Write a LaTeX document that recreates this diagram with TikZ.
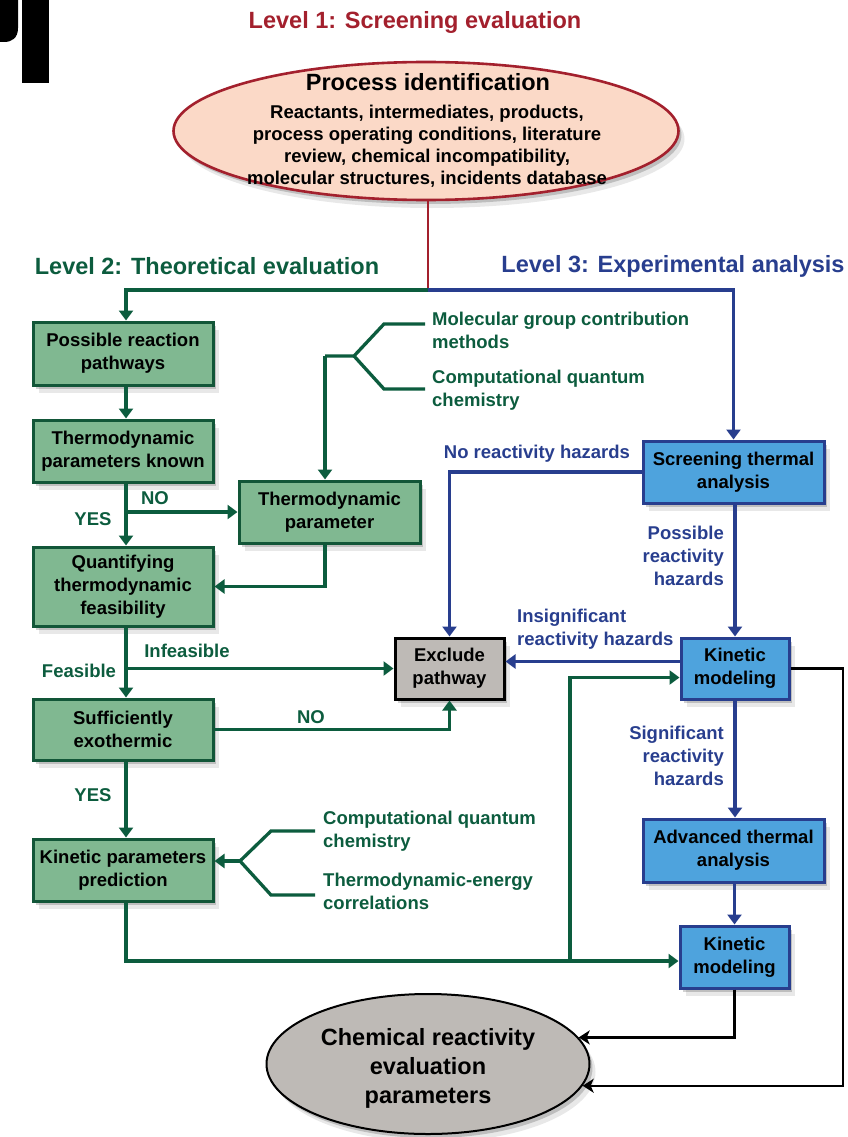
\documentclass[tikz,border=0pt]{standalone}
\usepackage{fontspec}
\setmainfont{Liberation Sans}
\usetikzlibrary{arrows.meta,shadows,shapes.geometric}
\definecolor{gline}{RGB}{12,92,62}
\definecolor{gfill}{RGB}{128,184,145}
\definecolor{gbord}{RGB}{18,86,56}
\definecolor{bline}{RGB}{40,62,142}
\definecolor{bfill}{RGB}{78,163,221}
\definecolor{rline}{RGB}{163,32,45}
\definecolor{salmon}{RGB}{251,217,199}
\definecolor{greyfill}{RGB}{190,186,182}
\newcommand\fbody{\fontsize{18.5}{23}\selectfont\bfseries}
\newcommand\fdesc{\fontsize{18.5}{22}\selectfont\bfseries}
\newcommand\ftitle{\fontsize{23.5}{29}\selectfont\bfseries}
\begin{document}
\begin{tikzpicture}[x=1pt,y=-1pt,
 shad/.style={drop shadow={shadow xshift=3pt,shadow yshift=-4pt,opacity=0.18,fill=black},
              drop shadow={shadow xshift=6pt,shadow yshift=-8pt,opacity=0.09,fill=black}},
 gbox/.style={shad,rectangle,draw=gbord,fill=gfill,line width=3pt,inner sep=0pt,align=center,font=\fbody,text=black},
 bbox/.style={gbox,draw=bline,fill=bfill},
 xbox/.style={gbox,draw=black,fill=greyfill},
 gln/.style={draw=gline,line width=3.3pt},
 garr/.style={gln,-{Triangle[width=14pt,length=10pt]}},
 barr/.style={draw=bline,line width=3.3pt,-{Triangle[width=14pt,length=10pt]}},
 karr/.style={draw=black,line width=2.4pt,-{Stealth[width=14pt,length=11pt,inset=3pt]}},
 glab/.style={font=\fbody,text=gline,inner sep=0pt},
 blab/.style={font=\fbody,text=bline,inner sep=0pt},
 ttl/.style={font=\ftitle,inner sep=0pt}]
\useasboundingbox (0,0) rectangle (847,1137);
% cropped page artifacts
\fill[black] (22,0) rectangle (49,83);
\fill[black] (0,0) -- (18,0) -- (18,28) .. controls (18,38) and (12,42) .. (4,42) -- (0,42) -- cycle;

% titles
\node[ttl,text=rline] (t1) at (415,22) {Level 1: Screening evaluation};
\node[ttl,text=gline] (t2) at (207,266) {Level 2: Theoretical evaluation};
\node[ttl,text=bline] (t3) at (673,266) {Level 3: Experimental analysis};

% top ellipse
\node[shad,ellipse,draw=rline,fill=salmon,line width=2.6pt,minimum width=505pt,minimum height=138pt,inner sep=0pt] (pid) at (426,131) {};
\node[ttl] (pidt) at (428,82) {Process identification};
\node[font=\fdesc,align=center,inner sep=0pt] (pidd) at (427,146) {Reactants, intermediates, products,\\process operating conditions, literature\\review, chemical incompatibility,\\molecular structures, incidents database};

% green boxes
\node[gbox,minimum width=180pt,minimum height=63pt] (b1) at (123,353.5) {Possible reaction\\pathways};
\node[gbox,minimum width=180pt,minimum height=62pt] (b2) at (123,451) {Thermodynamic\\parameters known};
\node[gbox,minimum width=180pt,minimum height=79pt] (b3) at (123,586.5) {Quantifying\\thermodynamic\\feasibility};
\node[gbox,minimum width=180pt,minimum height=61pt] (b4) at (123,729.5) {Sufficiently\\exothermic};
\node[gbox,minimum width=180pt,minimum height=62pt] (b5) at (123,870) {Kinetic parameters\\prediction};
\node[gbox,minimum width=181pt,minimum height=62pt] (tp) at (329.5,512) {Thermodynamic\\parameter};

% exclude
\node[xbox,minimum width=109pt,minimum height=61pt] (ex) at (449.5,668.5) {Exclude\\pathway};

% blue boxes
\node[bbox,minimum width=181pt,minimum height=62pt] (st) at (733.5,472) {Screening thermal\\analysis};
\node[bbox,minimum width=108pt,minimum height=61pt] (k1) at (735,668.5) {Kinetic\\modeling};
\node[bbox,minimum width=181pt,minimum height=63pt] (at) at (733.5,850.5) {Advanced thermal\\analysis};
\node[bbox,minimum width=109pt,minimum height=62pt] (k2) at (734.5,957) {Kinetic\\modeling};

% bottom ellipse
\node[shad,ellipse,draw=black,fill=greyfill,line width=2pt,minimum width=323pt,minimum height=140pt,inner sep=0pt] (ce) at (428,1064) {};
\node[font=\ftitle,align=center,inner sep=0pt] (cet) at (428,1068) {Chemical reactivity\\evaluation\\parameters};

% helper coordinates
\coordinate (split) at (428,290);
\coordinate (colx) at (126,0);
\coordinate (tpx) at (325,0);
\coordinate (j1) at (325,356);
\coordinate (f1) at (354,356);
\coordinate (u1) at (384,324);
\coordinate (u1e) at (425,324);
\coordinate (d1) at (384,389);
\coordinate (d1e) at (425,389);
\coordinate (j3) at (240,861);
\coordinate (u3) at (271,831);
\coordinate (u3e) at (315,831);
\coordinate (d3) at (271,895);
\coordinate (d3e) at (315,895);
\coordinate (j2) at (570,961);
\coordinate (rx) at (843,0);

% level split
\draw[draw=rline,line width=2.6pt] (pid.south -| split) -- (split);
\draw[garr] (split) -| (b1.north -| colx);
\draw[barr] (split) -| (st.north);

% green flow
\draw[garr] (b1.south -| colx) -- (b2.north -| colx);
\draw[garr] (b2.south -| colx) -- (b3.north -| colx);
\draw[garr] (tp.west -| colx) -- (tp.west);
\node[glab] (lno1) at (155,498) {NO};
\node[glab] (lyes1) at (93,519) {YES};

\draw[garr] (j1) -- (tp.north -| tpx);
\draw[gln] (j1) -- (f1) -- (u1) -- (u1e);
\draw[gln] (f1) -- (d1) -- (d1e);
\node[glab,anchor=west,align=left] (m1) at (432,330) {Molecular group contribution\\methods};
\node[glab,anchor=west,align=left] (m2) at (432,390) {Computational quantum\\chemistry};

\draw[garr] (tp.south -| tpx) |- (b3.east);

\draw[garr] (b3.south -| colx) -- (b4.north -| colx);
\draw[garr] (ex.west -| colx) -- (ex.west);
\node[glab] (linf) at (187,651) {Infeasible};
\node[glab] (lfea) at (79,671) {Feasible};

\draw[garr] (b4.east) -| (ex.south);
\node[glab] (lno2) at (311,717) {NO};

\draw[garr] (b4.south -| colx) -- (b5.north -| colx);
\node[glab] (lyes2) at (93,795) {YES};

\draw[garr] (j3) -- (b5.east |- j3);
\draw[gln] (j3) -- (u3) -- (u3e);
\draw[gln] (j3) -- (d3) -- (d3e);
\node[glab,anchor=west,align=left] (m3) at (323,831) {Computational quantum\\chemistry};
\node[glab,anchor=west,align=left] (m4) at (323,891) {Thermodynamic-energy\\correlations};

\draw[garr] (b5.south -| colx) |- ([yshift=-4pt]k2.west);
\draw[garr] (j2) |- ([yshift=-9pt]k1.west);

% blue flow
\draw[barr] (st.west) -| (ex.north);
\node[blab] (lnr) at (537,454) {No reactivity hazards};
\draw[barr] (st.south -| k1.north) -- (k1.north);
\node[blab,anchor=east,align=right] (lpr) at (724,556) {Possible\\reactivity\\hazards};
\draw[barr] ([yshift=7pt]k1.west) -- ([yshift=7pt]ex.east);
\node[blab,anchor=west,align=left] (lir) at (517,629) {Insignificant\\reactivity hazards};
\draw[barr] (k1.south) -- (at.north -| k1.south);
\node[blab,anchor=east,align=right] (lsr) at (724,756) {Significant\\reactivity\\hazards};
\draw[barr] (at.south -| k2.north) -- (k2.north);

% black to result
\draw[karr] (k2.south) |- (ce.10);
\draw[karr] (k1.east) -- (k1.east -| rx) |- (ce.-8.5);
\end{tikzpicture}
\end{document}
